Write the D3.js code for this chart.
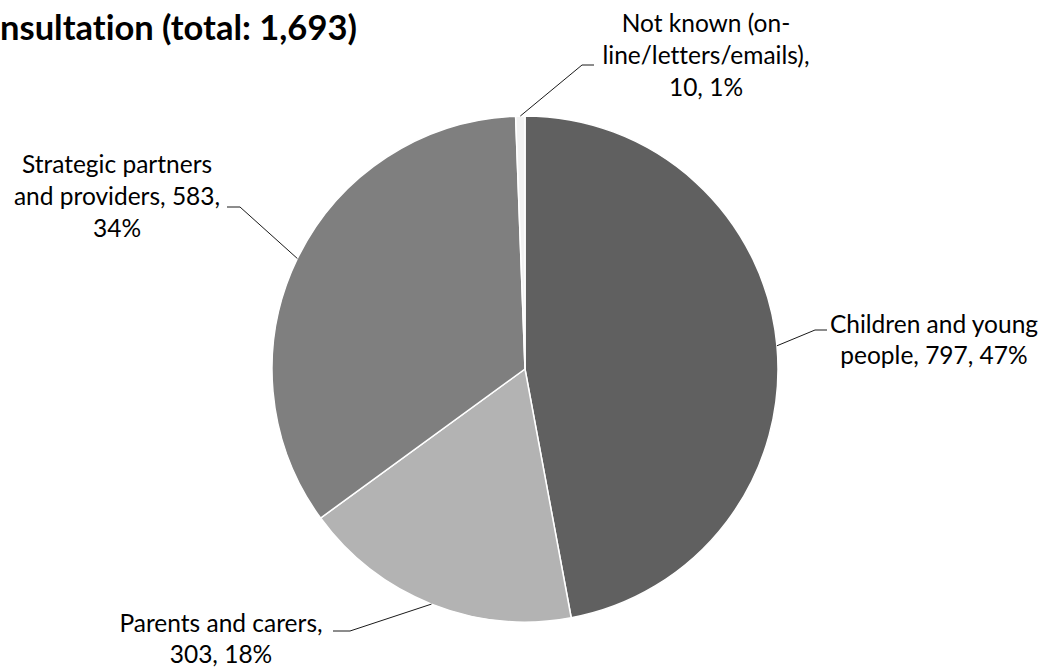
<!DOCTYPE html>
<html>
<head>
<meta charset="utf-8">
<script src="https://cdn.jsdelivr.net/npm/d3@7"></script>
<style>
  html, body { margin: 0; padding: 0; background: #fff; }
  svg { display: block; }
  text { font-family: Lato, "Liberation Sans", sans-serif; fill: #000; font-variant-ligatures: none; }
</style>
</head>
<body>
<svg id="chart" width="1045" height="668"></svg>
<script>
// Respondent groups and counts
const categories = [
  "Children and young people",
  "Parents and carers",
  "Strategic partners and providers",
  "Not known (on-line/letters/emails)"
];
const counts = [797, 303, 583, 10];
const percentLabels = ["47%", "18%", "34%", "1%"];
const sliceColors = ["#606060", "#b3b3b3", "#7f7f7f", "#f2f2f2"];
const totalLabel = "1,693";

// Label lines as they wrap beside each slice
const labelLines = [
  ["Children and young", "people, 797, 47%"],
  ["Parents and carers,", "303, 18%"],
  ["Strategic partners", "and providers, 583,", "34%"],
  ["Not known (on-", "line/letters/emails),", "10, 1%"]
];

const svg = d3.select("#chart");
const cx = 525, cy = 369, radius = 253;

const pie = d3.pie().sort(null).value(d => d)(counts);
const arc = d3.arc().innerRadius(0).outerRadius(radius);

const g = svg.append("g").attr("transform", `translate(${cx},${cy})`);

g.selectAll("path.slice")
  .data(pie)
  .join("path")
  .attr("class", "slice")
  .attr("d", arc)
  .attr("fill", (d, i) => sliceColors[i])
  .attr("stroke", "#ffffff")
  .attr("stroke-width", 1.5);

// Leader-line elbows and label anchors (layout only)
const layout = [
  { elbow: [815, 330], end: [827, 330], tx: 934, ty: 333, lh: 31 },
  { elbow: [350, 631], end: [333, 631], tx: 221, ty: 632, lh: 31 },
  { elbow: [240, 207], end: [227, 207], tx: 117, ty: 173, lh: 32 },
  { elbow: [582, 65],  end: [594, 65],  tx: 706, ty: 32,  lh: 32 }
];

pie.forEach((d, i) => {
  const a = (d.startAngle + d.endAngle) / 2;
  const px = cx + radius * Math.sin(a);
  const py = cy - radius * Math.cos(a);
  const L = layout[i];
  svg.append("polyline")
    .attr("points", [[px, py], L.elbow, L.end].map(p => p.join(",")).join(" "))
    .attr("fill", "none")
    .attr("stroke", "#1a1a1a")
    .attr("stroke-width", 1);

  const t = svg.append("text")
    .attr("text-anchor", "middle")
    .attr("font-size", 24.5);
  labelLines[i].forEach((line, k) => {
    t.append("tspan")
      .attr("x", L.tx)
      .attr("y", L.ty + k * L.lh)
      .text(line);
  });
});

// Title line, visible from the left edge to x = 358
const title = svg.append("text")
  .attr("x", 0)
  .attr("y", 40)
  .attr("text-anchor", "start")
  .attr("font-weight", "bold")
  .attr("font-size", 30)
  .text(`nsultation (total: ${totalLabel})`);
const w = title.node().getComputedTextLength();
title.attr("font-size", 30 * 357 / w);
</script>
</body>
</html>
